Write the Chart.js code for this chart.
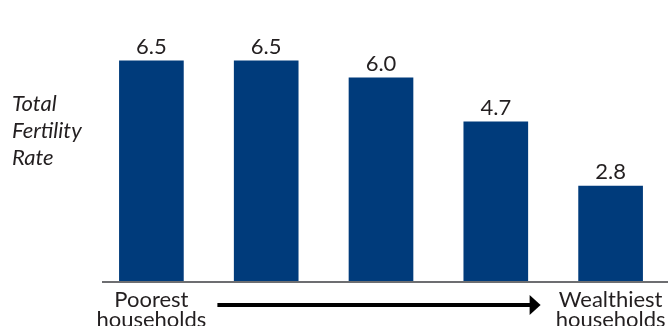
<!DOCTYPE html>
<html>
<head>
<meta charset="utf-8">
<script src="https://cdn.jsdelivr.net/npm/chart.js@4"></script>
<style>
  html, body { margin: 0; padding: 0; background: #fff; }
  #wrap { width: 668px; height: 326px; }
</style>
</head>
<body>
<div id="wrap"><canvas id="tfr"></canvas></div>
<script>
const categories = [["Poorest", "households"], "", "", "", ["Wealthiest", "households"]];
const fertility = [6.5, 6.5, 6.0, 4.7, 2.8];
const yTitle = ["Total", "Fertility", "Rate"];

const FONT = "Lato, 'Open Sans', sans-serif";
const INK = "#231f20";

// value labels, axis title, baseline and the poor -> wealthy arrow
const decorations = {
    id: "decorations",
    afterDatasetsDraw(chart) {
        const ctx = chart.ctx;
        const area = chart.chartArea;
        const x = chart.scales.x;
        ctx.save();

        ctx.fillStyle = INK;
        ctx.font = "22px " + FONT;
        ctx.textAlign = "center";
        ctx.textBaseline = "alphabetic";
        chart.getDatasetMeta(0).data.forEach((bar, i) => {
            ctx.fillText(fertility[i].toFixed(1), bar.x, bar.y - 7);
        });

        ctx.font = "italic 22px " + FONT;
        ctx.textAlign = "left";
        yTitle.forEach((line, i) => ctx.fillText(line, 12, 111 + i * 27));

        ctx.strokeStyle = "#6d6e71";
        ctx.lineWidth = 2;
        ctx.beginPath();
        ctx.moveTo(102, area.bottom + 1);
        ctx.lineTo(chart.width, area.bottom + 1);
        ctx.stroke();

        const ay = area.bottom + 24;
        const x0 = x.getPixelForValue(0) + 66;
        const x1 = x.getPixelForValue(4) - 70;
        ctx.strokeStyle = "#000";
        ctx.fillStyle = "#000";
        ctx.lineWidth = 4;
        ctx.beginPath();
        ctx.moveTo(x0, ay);
        ctx.lineTo(x1 - 10, ay);
        ctx.stroke();
        ctx.beginPath();
        ctx.moveTo(x1, ay);
        ctx.lineTo(x1 - 11, ay - 10);
        ctx.lineTo(x1 - 11, ay + 10);
        ctx.closePath();
        ctx.fill();

        ctx.restore();
    }
};

new Chart(document.getElementById("tfr"), {
    type: "bar",
    data: {
        labels: categories,
        datasets: [{
            data: fertility,
            backgroundColor: "#003b7b",
            barThickness: 64
        }]
    },
    options: {
        responsive: true,
        maintainAspectRatio: false,
        animation: false,
        layout: { padding: { left: 94, right: 0, top: 10, bottom: 0 } },
        plugins: { legend: { display: false }, tooltip: { enabled: false } },
        scales: {
            x: {
                grid: { display: false },
                border: { display: false },
                ticks: {
                    color: INK,
                    font: { family: FONT, size: 22, lineHeight: 0.92 },
                    padding: 1,
                    maxRotation: 0,
                    autoSkip: false
                },
                afterFit(scale) { scale.height = 45; }
            },
            y: {
                display: false,
                min: 0,
                max: 8
            }
        }
    },
    plugins: [decorations]
});
</script>
</body>
</html>
